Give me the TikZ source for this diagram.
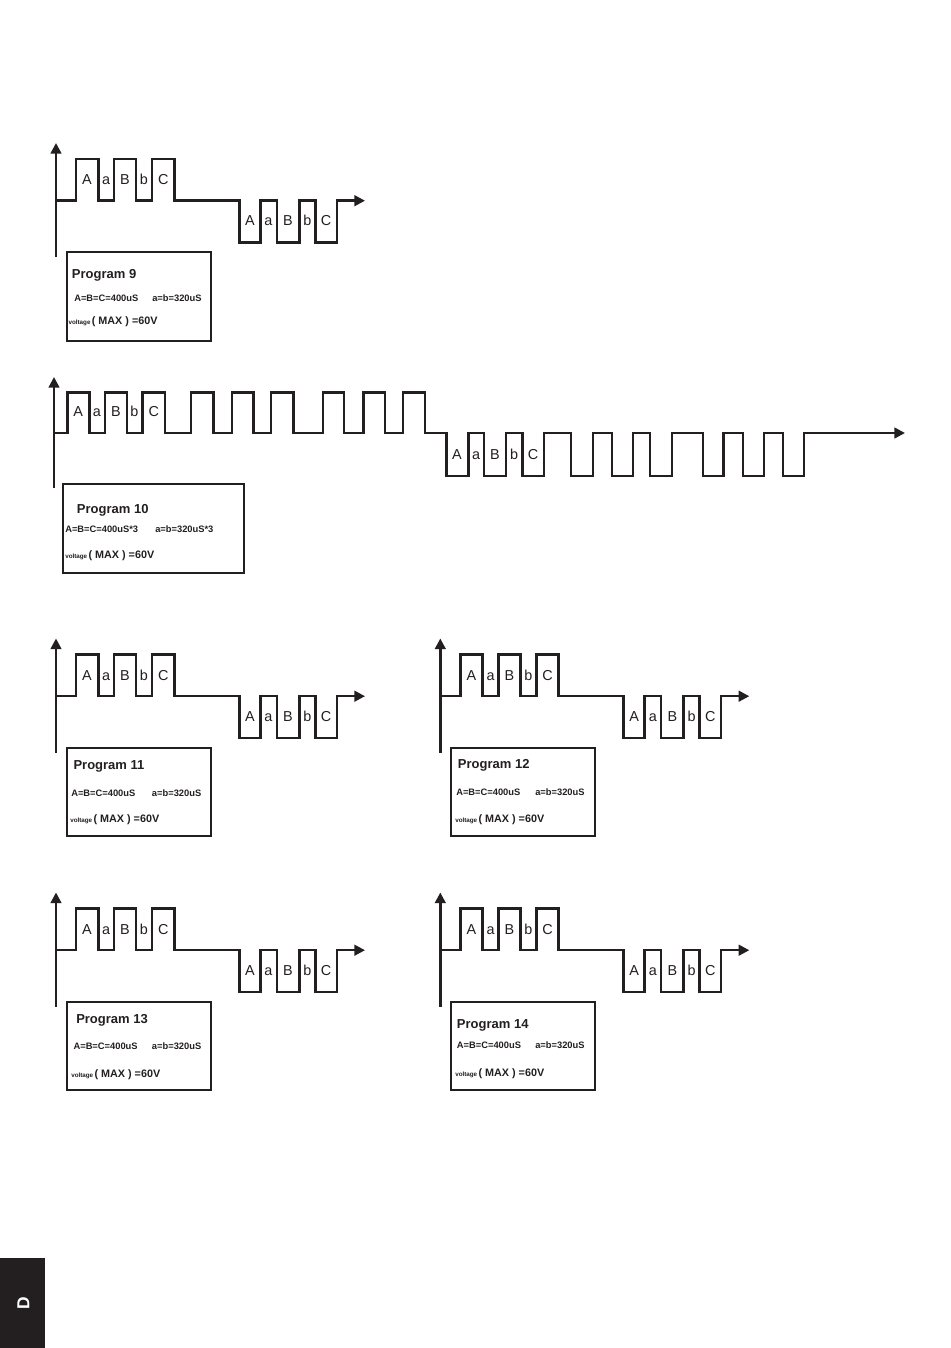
\documentclass[tikz,border=0pt]{standalone}
\usepackage{fontspec}
\setmainfont{Liberation Sans}
\usetikzlibrary{arrows.meta}
\definecolor{ink}{HTML}{231F20}
\tikzset{
  wline/.style={draw=ink, line width=1.8pt, line join=miter, -{Triangle[length=8pt,width=8pt]}},
  yaxis/.style={draw=ink, line width=1.8pt, -{Triangle[length=8pt,width=8pt]}},
  infobox/.style={draw=ink, line width=1.5pt},
  plab/.style={text=ink, font=\fontsize{10.8}{12}\selectfont, anchor=base, inner sep=0pt},
  ttl/.style={text=ink, font=\bfseries\fontsize{9.75}{11}\selectfont, anchor=base west, inner sep=0pt},
  vals/.style={text=ink, font=\bfseries\fontsize{7}{8}\selectfont, anchor=base west, inner sep=0pt},
  volt/.style={text=ink, anchor=base west, inner sep=0pt},
  tabtext/.style={text=white, font=\bfseries\fontsize{13}{14}\selectfont, rotate=90, inner sep=0pt}
}
\newcommand{\voltline}{{\bfseries\fontsize{4.7}{5}\selectfont voltage}\hspace{1pt}{\bfseries\fontsize{8.1}{9}\selectfont( MAX ) =60V}}
\newcommand{\stdprog}[3]{%
  \begin{scope}[shift={(#2,#3)}]
    \draw[yaxis] (56,257) -- (56,143);
    \draw[wline] (56,200.7) -| (76,159) -| (98.3,200.7) -| (114,159) -| (136,200.7) -| (152,159) -| (174.3,200.7)
      -| (239.3,242.7) -| (260.3,200.7) -| (276.7,242.7) -| (299.3,200.7) -| (315.3,242.7) -| (336.7,200.7) -- (365,200.7);
    \foreach \x/\t/\n in {87/A/1,106.2/a/2,125/B/3,144/b/4,163.2/C/5}
      \node[plab] (#1up\n) at (\x,185) {\t};
    \foreach \x/\t/\n in {249.8/A/1,268.5/a/2,288/B/3,307.3/b/4,326/C/5}
      \node[plab] (#1dn\n) at (\x,226) {\t};
    \draw[infobox] (66.7,252) rectangle (210.7,340.5);
  \end{scope}}
\begin{document}
\begin{tikzpicture}[x=0.75pt,y=-0.75pt]
\useasboundingbox (0,0) rectangle (950,1348);
\fill[white] (0,0) rectangle (950,1348);

% Program 9
\stdprog{pnine}{0}{0}
\node[ttl] (t9) at (71.7,278) {Program 9};
\node[vals] (v9a) at (74,301.1) {A=B=C=400uS};
\node[vals] (v9b) at (152,301.1) {a=b=320uS};
\node[volt] (m9) at (68.3,324.9) {\voltline};

% Program 10
\draw[yaxis] (54,488) -- (54,377);
\draw[wline] (54,433) -| (67.3,392.5) -| (89.3,433) -| (105,392.5) -| (126.7,433) -| (142.3,392.5) -| (165,433)
  -| (191,392.5) -| (213.3,433) -| (231.7,392.5) -| (253.3,433) -| (271,392.5) -| (293.3,433)
  -| (322.7,392.5) -| (344,433) -| (363.3,392.5) -| (385,433) -| (402.7,392.5) -| (425,433)
  -| (446.5,476) -| (468.3,433) -| (484,476) -| (505.7,433) -| (522.3,476) -| (544,433)
  -| (570.7,476) -| (592.7,433) -| (611.7,476) -| (632.7,433) -| (650,476) -| (671.7,433)
  -| (702.7,476) -| (723.3,433) -| (742.7,476) -| (764,433) -| (782.7,476) -| (804,433) -- (905,433);
\foreach \x/\t/\n in {78.3/A/1,97/a/2,116/B/3,134.5/b/4,153.7/C/5}
  \node[plab] (ptenup\n) at (\x,416.7) {\t};
\foreach \x/\t/\n in {457/A/1,476/a/2,495/B/3,514/b/4,533/C/5}
  \node[plab] (ptendn\n) at (\x,459.3) {\t};
\draw[infobox] (63.3,484) rectangle (244,572.7);
\node[ttl] (t10) at (76.7,513) {Program 10};
\node[vals] (v10a) at (65,532.4) {A=B=C=400uS*3};
\node[vals] (v10b) at (155,532.4) {a=b=320uS*3};
\node[volt] (m10) at (65,558.2) {\voltline};

% Program 11
\stdprog{peleven}{0}{495.5}
\node[ttl] (t11) at (73.3,769.7) {Program 11};
\node[vals] (v11a) at (71,796.7) {A=B=C=400uS};
\node[vals] (v11b) at (151.7,796.7) {a=b=320uS};
\node[volt] (m11) at (70,822.9) {\voltline};

% Program 12
\stdprog{ptwelve}{384.3}{495.5}
\node[ttl] (t12) at (457.7,768) {Program 12};
\node[vals] (v12a) at (456,795) {A=B=C=400uS};
\node[vals] (v12b) at (535,795) {a=b=320uS};
\node[volt] (m12) at (455,822.2) {\voltline};

% Program 13
\stdprog{pthirteen}{0}{749.5}
\node[ttl] (t13) at (76,1023) {Program 13};
\node[vals] (v13a) at (73.3,1049.1) {A=B=C=400uS};
\node[vals] (v13b) at (151.7,1049.1) {a=b=320uS};
\node[volt] (m13) at (71,1077) {\voltline};

% Program 14
\stdprog{pfourteen}{384.3}{749.5}
\node[ttl] (t14) at (456.7,1028) {Program 14};
\node[vals] (v14a) at (456.7,1048.6) {A=B=C=400uS};
\node[vals] (v14b) at (535,1048.6) {a=b=320uS};
\node[volt] (m14) at (455,1076.6) {\voltline};

% side tab
\fill[ink] (0,1258) rectangle (45,1348);
\node[tabtext] (tab) at (23.5,1303) {D};
\end{tikzpicture}
\end{document}
